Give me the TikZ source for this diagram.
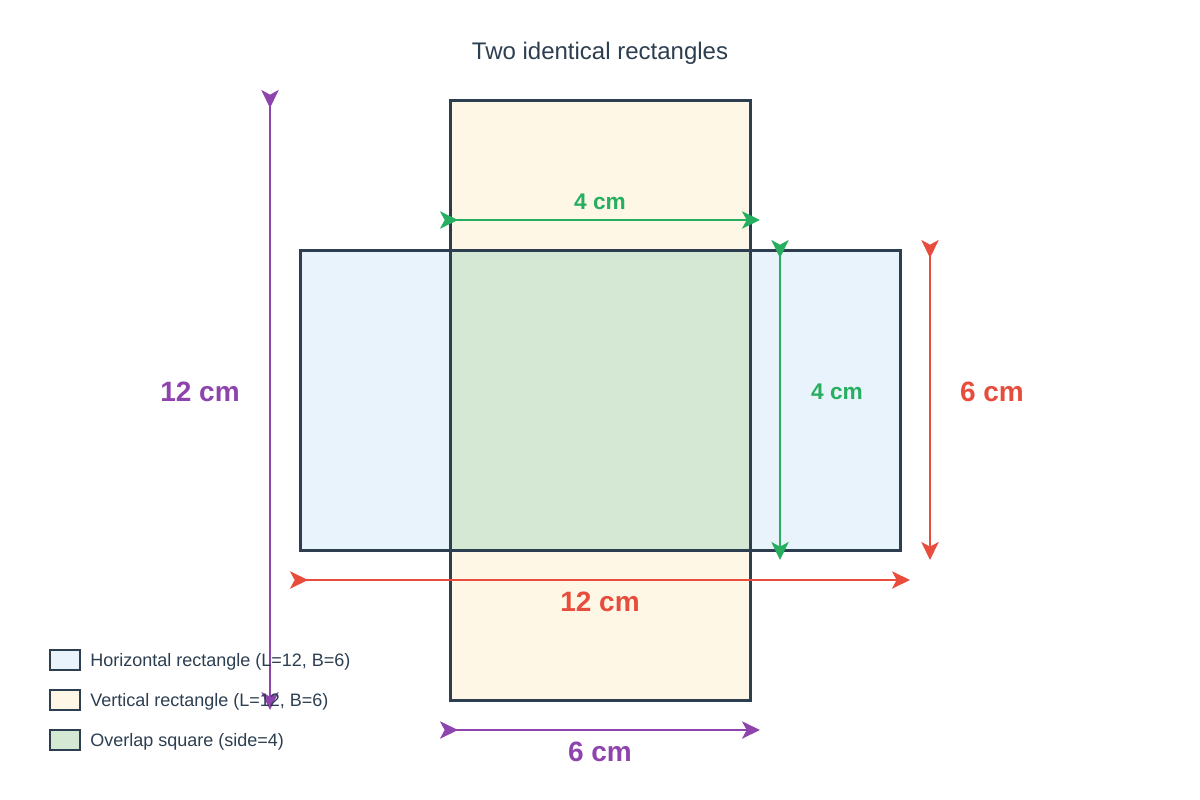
\documentclass[tikz,border=0pt]{standalone}
\usepackage{fontspec}
\setmainfont{Liberation Sans}
\usetikzlibrary{arrows.meta}
\definecolor{ink}{HTML}{2C3E50}
\definecolor{hfill}{HTML}{E8F3FC}
\definecolor{vfill}{HTML}{FEF7E6}
\definecolor{ofill}{HTML}{D5E8D4}
\definecolor{cgreen}{HTML}{27AE60}
\definecolor{cred}{HTML}{E74C3C}
\definecolor{cpurple}{HTML}{8E44AD}
\tikzset{
  rectbox/.style={draw=ink, line width=2.25pt},
  dimline/.style={line width=1.5pt, {Stealth[reversed,length=13.5pt,width=13pt,inset=3.5pt]}-{Stealth[length=13.5pt,width=13pt,inset=3.5pt]}},
  biglabel/.style={font=\bfseries\fontsize{21}{25}\selectfont},
  smalllabel/.style={font=\bfseries\fontsize{17}{20}\selectfont},
  legbox/.style={draw=ink, line width=1.5pt, minimum width=22.5pt, minimum height=15pt, inner sep=0pt},
  legtext/.style={anchor=west, text=ink, font=\fontsize{13.5}{16}\selectfont, inner sep=0pt}
}
\begin{document}
\begin{tikzpicture}[x=0.75pt,y=-0.75pt]
\useasboundingbox (0,0) rectangle (1200,800);
% title
\node[text=ink, font=\fontsize{18}{22}\selectfont] (title) at (600,53) {Two identical rectangles};
% rectangles
\fill[hfill] (300,250) rectangle (900,550);
\fill[vfill] (450,100) rectangle (750,700);
\fill[ofill] (450,250) rectangle (750,550);
\draw[rectbox] (300,250) rectangle (900,550);
\draw[rectbox] (450,100) rectangle (750,700);
% named coordinates for dimension lines
\coordinate (pT) at (270,90);  \coordinate (pB) at (270,710);
\coordinate (gL) at (440,220); \coordinate (gR) at (760,220);
\coordinate (gT) at (780,240); \coordinate (gB) at (780,560);
\coordinate (rT) at (930,240); \coordinate (rB) at (930,560);
\coordinate (rL) at (290,580); \coordinate (rR) at (910,580);
\coordinate (qL) at (440,730); \coordinate (qR) at (760,730);
% dimension lines
\draw[dimline, cpurple] (pT) -- (pB);
\draw[dimline, cgreen] (gL) -- (gR);
\draw[dimline, cgreen] (gT) -- (gB);
\draw[dimline, cred] (rT) -- (rB);
\draw[dimline, cred] (rL) -- (rR);
\draw[dimline, cpurple] (qL) -- (qR);
% labels
\node[smalllabel, text=cgreen] (l1) at (600,202) {4 cm};
\node[smalllabel, text=cgreen] (l2) at (837,392) {4 cm};
\node[biglabel, text=cred] (l3) at (992,392) {6 cm};
\node[biglabel, text=cred] (l4) at (600,602) {12 cm};
\node[biglabel, text=cpurple] (l5) at (200,392) {12 cm};
\node[biglabel, text=cpurple] (l6) at (600,752) {6 cm};
% legend
\node[legbox, fill=hfill] (k1) at (65,660) {};
\node[legbox, fill=vfill] (k2) at (65,700) {};
\node[legbox, fill=ofill] (k3) at (65,740) {};
\node[legtext] (t1) at (90,662) {Horizontal rectangle (L=12, B=6)};
\node[legtext] (t2) at (90,702) {Vertical rectangle (L=12, B=6)};
\node[legtext] (t3) at (90,742) {Overlap square (side=4)};
\end{tikzpicture}
\end{document}
